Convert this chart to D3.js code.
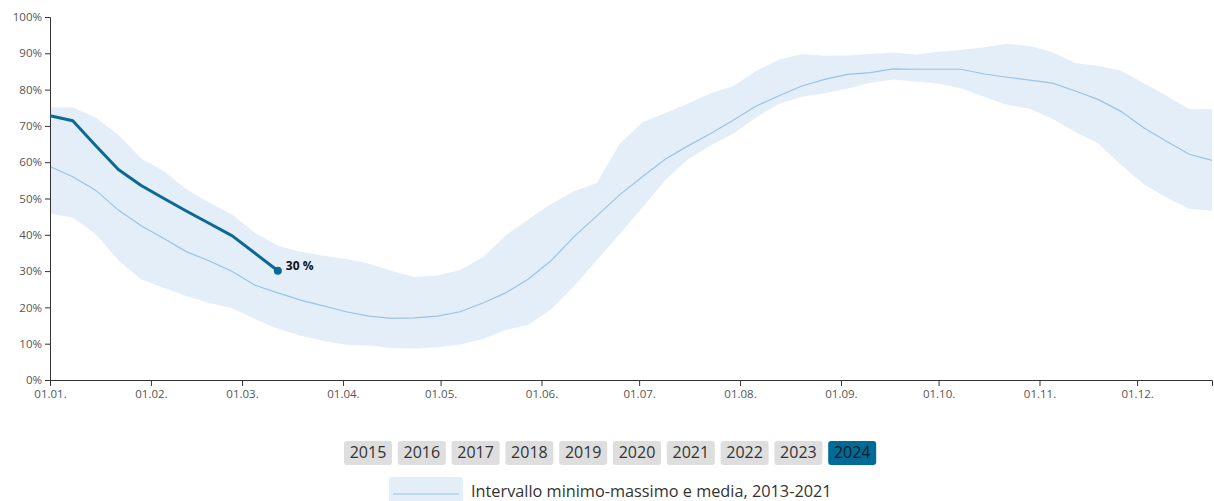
<!DOCTYPE html>
<html lang="it">
<head>
  <meta charset="UTF-8">
  <title>Riempimento laghi di accumulazione</title>
  <style>
    html, body {
      margin: 0;
      padding: 0;
      background: #fff;
      font-family: 'Open Sans', 'Noto Sans', sans-serif;
      overflow: hidden;
    }
    svg { display: block; }
    .axis text { fill: #555; font-size: 11.5px; font-family: 'Open Sans', sans-serif; }
    .axis path, .axis line { stroke: #333; }
  </style>
</head>
<body>
  <svg id="chart" width="1214" height="501"></svg>

  <script src="https://d3js.org/d3.v7.min.js"></script>
  <script>
    // weekly values, week 0 = 01.01.
    const maxVals = [75.1, 75.1, 72.3, 67.5, 61.0, 57.5, 52.5, 48.8, 45.5, 40.5, 37.0, 35.3, 34.2, 33.3, 32.0, 30.0,
      28.4, 28.8, 30.3, 33.8, 39.8, 44.3, 48.5, 52.0, 54.3, 65.0, 71.0, 73.5, 76.2, 79.0, 81.0, 85.2, 88.3, 89.8,
      89.3, 89.4, 89.8, 90.2, 89.7, 90.4, 90.9, 91.7, 92.6, 92.0, 90.3, 87.3, 86.6, 85.2, 81.8, 78.3, 74.6, 74.6];
    const minVals = [45.9, 44.8, 40.2, 33.0, 27.7, 25.4, 23.1, 21.2, 19.8, 16.8, 14.1, 12.2, 10.8, 9.7, 9.5, 8.8,
      8.7, 9.0, 9.8, 11.3, 13.8, 15.2, 19.5, 25.8, 33.0, 40.2, 47.5, 55.0, 60.8, 64.7, 67.9, 72.4, 76.1, 78.0,
      79.0, 80.3, 81.9, 82.8, 82.2, 81.7, 80.3, 78.0, 75.8, 74.7, 72.0, 68.3, 65.2, 59.3, 54.0, 50.3, 47.2, 46.6];
    const meanVals = [58.8, 56.0, 52.3, 46.8, 42.5, 39.0, 35.3, 32.8, 29.9, 26.1, 24.0, 22.0, 20.4, 18.8, 17.6, 17.0,
      17.1, 17.6, 18.8, 21.2, 24.0, 27.8, 32.9, 39.5, 45.2, 51.0, 56.0, 60.8, 64.5, 67.9, 71.6, 75.5, 78.3, 81.0,
      82.8, 84.2, 84.7, 85.7, 85.6, 85.6, 85.6, 84.3, 83.4, 82.6, 81.8, 79.6, 77.3, 74.0, 69.5, 65.8, 62.2, 60.5];
    const vals2024 = [72.8, 71.4, 64.6, 58.0, 53.6, 50.0, 46.5, 43.1, 39.7, 34.9, 30.1];
    const years = ["2015", "2016", "2017", "2018", "2019", "2020", "2021", "2022", "2023", "2024"];
    const activeYear = "2024";
    const legendLabel = "Intervallo minimo-massimo e media, 2013-2021";

    const dark = "#0b6a94";
    const band = "#e3eef8";
    const meanColor = "#9cc3e2";

    const svg = d3.select("#chart");
    const mLeft = 50, mRight = 1212, mTop = 17, mBottom = 380;

    const start = new Date(2015, 0, 1);
    const weekDate = i => d3.timeDay.offset(start, 7 * i);

    const x = d3.scaleTime()
      .domain([start, weekDate(maxVals.length - 1)])
      .range([mLeft, mRight]);
    const y = d3.scaleLinear().domain([0, 100]).range([mBottom, mTop]);

    const g = svg.append("g");

    // min-max band
    const area = d3.area()
      .x((d, i) => x(weekDate(i)))
      .y0((d, i) => y(minVals[i]))
      .y1(d => y(d));
    g.append("path")
      .datum(maxVals)
      .attr("d", area)
      .attr("fill", band);

    const line = d3.line()
      .x((d, i) => x(weekDate(i)))
      .y(d => y(d));

    g.append("path")
      .datum(meanVals)
      .attr("d", line)
      .attr("fill", "none")
      .attr("stroke", meanColor)
      .attr("stroke-width", 1.2);

    // axes
    g.append("g")
      .attr("class", "axis")
      .attr("transform", `translate(${mLeft},0)`)
      .call(d3.axisLeft(y).tickValues(d3.range(0, 101, 10)).tickSize(5).tickPadding(3).tickFormat(d => d + "%"));

    g.append("g")
      .attr("class", "axis")
      .attr("transform", `translate(0,${mBottom})`)
      .call(d3.axisBottom(x).ticks(d3.timeMonth.every(1)).tickSize(6).tickPadding(4)
        .tickFormat(d3.timeFormat("%d.%m.")));

    // current year
    g.append("path")
      .datum(vals2024)
      .attr("d", line)
      .attr("fill", "none")
      .attr("stroke", dark)
      .attr("stroke-width", 3)
      .attr("stroke-linejoin", "round");

    const lastI = vals2024.length - 1;
    const lx = x(weekDate(lastI)), ly = y(vals2024[lastI]);
    g.append("circle")
      .attr("cx", lx)
      .attr("cy", ly)
      .attr("r", 4)
      .attr("fill", dark);
    g.append("text")
      .attr("x", lx + 8)
      .attr("y", ly - 4)
      .attr("dominant-baseline", "middle")
      .attr("font-size", 12)
      .attr("font-weight", "bold")
      .attr("fill", "#111")
      .text(Math.round(vals2024[lastI]) + " %");

    // year buttons
    const btnW = 48, btnH = 24, btnGap = 5.8;
    const btnX = d3.scaleBand().domain(years)
      .range([344, 344 + years.length * (btnW + btnGap) - btnGap])
      .paddingInner(btnGap / (btnW + btnGap));
    const btns = svg.append("g").selectAll("g")
      .data(years)
      .enter()
      .append("g")
      .attr("transform", d => `translate(${btnX(d)},441)`);
    btns.append("rect")
      .attr("width", btnX.bandwidth())
      .attr("height", btnH)
      .attr("rx", 3)
      .attr("fill", d => d === activeYear ? "#006b96" : "#dedede");
    btns.append("text")
      .attr("x", btnX.bandwidth() / 2)
      .attr("y", btnH / 2 + 1)
      .attr("text-anchor", "middle")
      .attr("dominant-baseline", "middle")
      .attr("font-size", 16)
      .attr("fill", d => d === activeYear ? "#0d1a22" : "#333")
      .text(d => d);

    // legend
    const leg = svg.append("g").attr("transform", "translate(389,477)");
    leg.append("rect")
      .attr("width", 74)
      .attr("height", 30)
      .attr("rx", 3)
      .attr("fill", band);
    leg.append("line")
      .attr("x1", 4).attr("x2", 70)
      .attr("y1", 17).attr("y2", 17)
      .attr("stroke", meanColor)
      .attr("stroke-width", 1.2);
    leg.append("text")
      .attr("x", 82)
      .attr("y", 20)
      .attr("font-size", 16.3)
      .attr("fill", "#333")
      .text(legendLabel);
  </script>
</body>
</html>
